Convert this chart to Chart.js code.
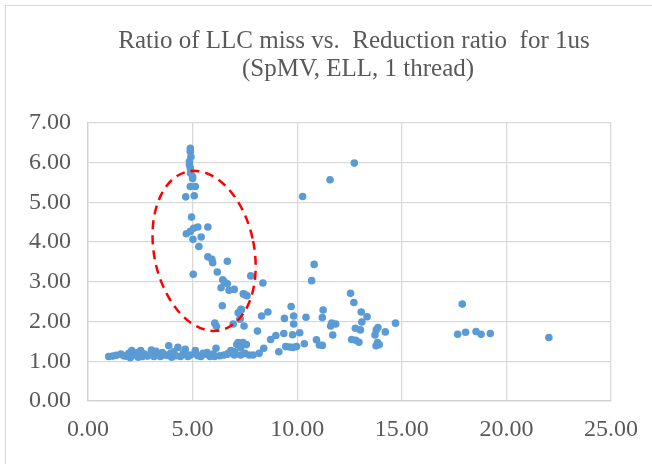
<!DOCTYPE html>
<html>
<head>
<meta charset="utf-8">
<script src="https://cdn.jsdelivr.net/npm/chart.js@4.4.1/dist/chart.umd.min.js"></script>
<style>
  html, body { margin: 0; padding: 0; background: #fff; overflow: hidden; }
  #wrap { position: relative; width: 652px; height: 464px; }
  #chart { display: block; }
  #frame { position: absolute; left: 5px; top: 5px; width: 680px; height: 480px; border: 1px solid #d9d9d9; pointer-events: none; }
</style>
</head>
<body>
<div id="wrap">
  <canvas id="chart" width="652" height="464"></canvas>
  <div id="frame"></div>
</div>
<script>
const titleLines = ["Ratio of LLC miss vs.  Reduction ratio  for 1us", "(SpMV, ELL, 1 thread)"];
const xTicks = [0, 5, 10, 15, 20, 25];
const yTicks = [0, 1, 2, 3, 4, 5, 6, 7];

// [reduction ratio, LLC miss ratio]
const spikePoints = [
  [4.89, 6.36], [4.89, 6.28], [4.92, 6.15], [4.85, 6.03], [4.85, 5.95], [4.89, 5.87],
  [4.90, 5.74], [5.00, 5.65], [5.00, 5.60], [4.89, 5.40], [5.13, 5.40], [4.67, 5.14],
  [5.08, 5.17], [4.95, 4.63], [4.70, 4.21], [4.89, 4.27], [5.05, 4.35], [5.25, 4.38],
  [5.73, 4.38], [5.02, 4.07], [5.41, 4.13], [5.30, 3.89], [5.73, 3.63], [5.92, 3.57],
  [5.96, 3.48], [6.66, 3.52], [6.18, 3.25], [5.03, 3.19], [6.44, 3.05], [6.51, 3.00],
  [6.66, 2.95], [6.36, 2.85], [6.74, 2.79], [6.99, 2.81], [7.78, 3.15], [8.36, 2.97],
  [7.45, 2.69], [7.60, 2.65], [6.42, 2.40], [7.31, 2.31], [7.22, 2.21], [7.27, 2.07],
  [6.06, 1.96], [6.14, 1.88], [6.94, 1.94], [7.46, 1.89]
];

const lowBand = [
  [0.99, 1.12], [1.18, 1.13], [1.35, 1.15], [1.57, 1.18], [1.70, 1.14], [1.81, 1.13],
  [1.95, 1.20], [2.02, 1.09], [2.09, 1.27], [2.15, 1.20], [2.28, 1.16], [2.35, 1.22],
  [2.40, 1.10], [2.52, 1.27], [2.60, 1.12], [2.70, 1.18], [2.84, 1.13], [3.03, 1.28],
  [3.15, 1.12], [3.25, 1.25], [3.30, 1.18], [3.46, 1.12], [3.55, 1.22], [3.69, 1.16],
  [3.80, 1.15], [3.86, 1.39], [3.95, 1.20], [4.00, 1.10], [4.10, 1.24], [4.20, 1.14],
  [4.30, 1.35], [4.42, 1.12], [4.55, 1.20], [4.65, 1.30], [4.66, 1.18], [4.78, 1.12],
  [4.90, 1.16], [5.13, 1.27], [5.15, 1.20], [5.25, 1.14], [5.40, 1.12], [5.50, 1.20],
  [5.60, 1.18], [5.70, 1.22], [5.83, 1.12], [5.99, 1.18], [6.05, 1.12], [6.12, 1.33],
  [6.30, 1.14], [6.50, 1.16], [6.67, 1.18], [6.71, 1.20], [6.83, 1.27], [7.00, 1.16],
  [7.02, 1.24], [7.11, 1.42], [7.18, 1.47], [7.30, 1.35], [7.30, 1.16], [7.41, 1.47],
  [7.50, 1.20], [7.57, 1.42], [7.70, 1.16], [7.89, 1.16], [8.18, 1.20], [8.40, 1.33]
];

const midPoints = [
  [7.18, 2.22], [7.33, 2.30], [7.26, 2.06], [7.42, 2.70], [7.54, 2.67],
  [8.10, 1.76], [8.30, 2.14], [8.60, 2.24], [8.73, 1.55], [8.98, 1.65], [9.12, 1.24],
  [9.39, 2.08], [9.71, 2.38], [9.83, 2.14], [9.83, 1.94], [9.36, 1.70], [9.78, 1.67],
  [10.12, 1.72], [9.45, 1.37], [9.63, 1.36], [9.80, 1.35], [9.97, 1.37], [10.34, 1.44],
  [10.26, 5.15], [11.57, 5.57], [12.73, 5.99], [10.81, 3.44], [10.69, 3.03],
  [10.42, 2.11], [11.24, 2.29], [11.20, 2.10], [11.65, 1.96], [11.84, 1.94],
  [11.60, 1.89], [11.70, 1.66], [10.92, 1.54], [11.06, 1.41], [11.20, 1.40],
  [12.55, 2.71], [12.71, 2.48], [13.06, 2.24], [13.34, 2.12], [13.09, 1.99],
  [12.78, 1.83], [13.02, 1.79], [12.60, 1.55], [12.80, 1.53], [12.95, 1.48],
  [13.86, 1.85], [13.78, 1.79], [13.72, 1.66], [14.21, 1.74], [13.84, 1.47],
  [13.77, 1.39], [13.92, 1.42], [14.70, 1.96]
];

const farPoints = [
  [17.89, 2.44], [17.67, 1.68], [18.05, 1.73], [18.55, 1.75], [18.79, 1.68],
  [19.23, 1.70], [22.03, 1.60]
];

// red dashed ellipse around the spike
const highlight = { x: 5.55, y: 3.78, rx: 50, ry: 81, rotation: -0.2 };

const points = [...spikePoints, ...lowBand, ...midPoints, ...farPoints].map(([x, y]) => ({ x, y }));

const tickFont = { family: "'Liberation Serif', serif", size: 24 };

const extras = {
  id: "extras",
  afterDatasetsDraw(chart) {
    const { ctx, scales } = chart;
    ctx.save();
    ctx.strokeStyle = "#ff0000";
    ctx.lineWidth = 2.5;
    ctx.setLineDash([9, 6]);
    ctx.beginPath();
    ctx.ellipse(scales.x.getPixelForValue(highlight.x), scales.y.getPixelForValue(highlight.y),
      highlight.rx, highlight.ry, highlight.rotation, 0, Math.PI * 2);
    ctx.stroke();
    ctx.restore();
  },
  afterDraw(chart) {
    const ctx = chart.ctx;
    ctx.save();
    ctx.fillStyle = "#595959";
    ctx.font = "25px 'Liberation Serif', serif";
    ctx.textAlign = "center";
    ctx.fillText(titleLines[0], 354, 48);
    ctx.fillText(titleLines[1], 358, 76);
    ctx.restore();
  },
};

new Chart(document.getElementById("chart"), {
  type: "scatter",
  data: {
    datasets: [{
      data: points,
      backgroundColor: "#5b9bd5",
      borderWidth: 0,
      pointRadius: 3.8,
      pointHoverRadius: 3.8,
    }],
  },
  options: {
    responsive: false,
    animation: false,
    events: [],
    layout: { padding: { top: 123, left: 0, right: 36, bottom: 23 } },
    plugins: { legend: { display: false }, tooltip: { enabled: false }, title: { display: false } },
    scales: {
      x: {
        type: "linear", min: 0, max: 25,
        afterFit: (s) => { s.height = 40; },
        afterBuildTicks: (s) => { s.ticks = xTicks.map((v) => ({ value: v })); },
        grid: { color: "#d9d9d9", lineWidth: 1.3, drawTicks: false },
        border: { color: "#d0d0d0", width: 1.3 },
        ticks: { font: tickFont, color: "#595959", padding: 14, maxRotation: 0, callback: (v) => Number(v).toFixed(2) },
      },
      y: {
        type: "linear", min: 0, max: 7,
        afterFit: (s) => { s.width = 88; },
        afterBuildTicks: (s) => { s.ticks = yTicks.map((v) => ({ value: v })); },
        grid: { color: "#d9d9d9", lineWidth: 1.3, drawTicks: false },
        border: { color: "#d0d0d0", width: 1.3 },
        ticks: { font: tickFont, color: "#595959", padding: 17, callback: (v) => Number(v).toFixed(2) },
      },
    },
  },
  plugins: [extras],
});
</script>
</body>
</html>
